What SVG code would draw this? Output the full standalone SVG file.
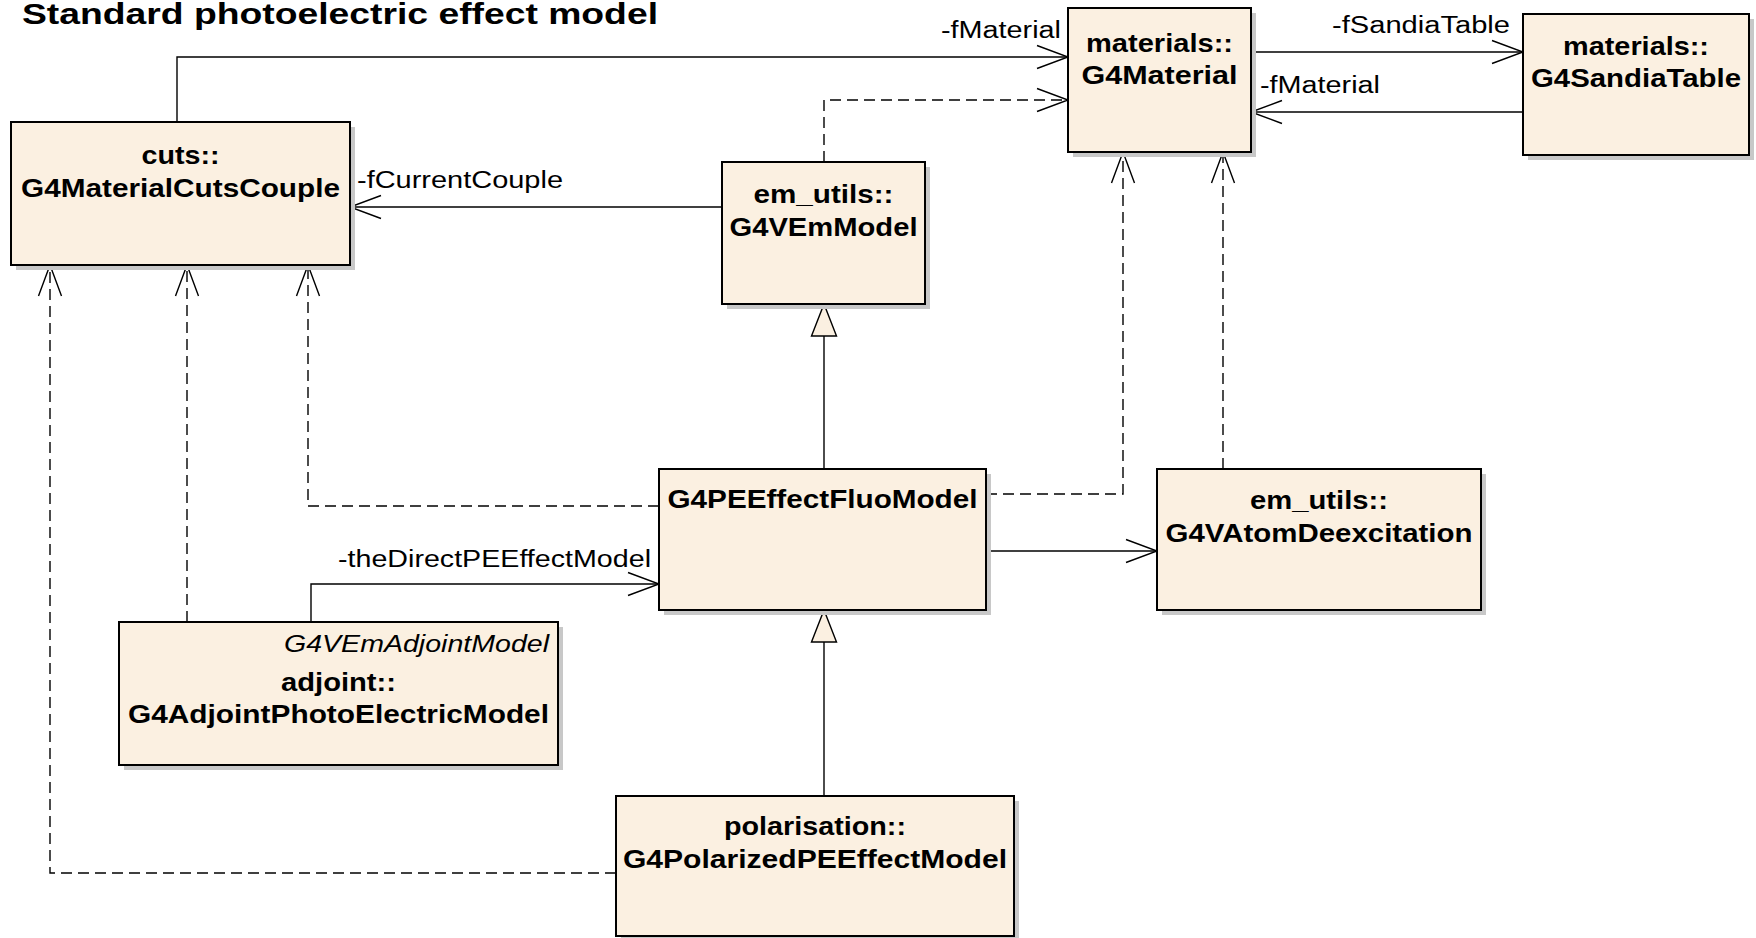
<svg xmlns="http://www.w3.org/2000/svg" width="1756" height="938" viewBox="0 0 1756 938">
  <style>
    .box { fill: #fbf0e1; stroke: #000; stroke-width: 2; }
    .shadow { fill: #c8c8c8; }
    .name { font-family: "Liberation Sans", Arial, sans-serif; font-size: 25px; font-weight: bold; fill: #000; text-anchor: middle; }
    .stereo { font-family: "Liberation Sans", Arial, sans-serif; font-size: 24px; font-style: italic; fill: #000; text-anchor: end; }
    .label { font-family: "Liberation Sans", Arial, sans-serif; font-size: 23px; fill: #000; }
    .title { font-family: "Liberation Sans", Arial, sans-serif; font-size: 30px; font-weight: bold; fill: #000; }
    .assoc { fill: none; stroke: #000; stroke-width: 1.4; marker-end: url(#open); }
    .dep { fill: none; stroke: #000; stroke-width: 1.4; stroke-dasharray: 11 6; marker-end: url(#open); }
    .gen { fill: none; stroke: #000; stroke-width: 1.4; marker-end: url(#hollow); }
  </style>
  <defs>
    <marker id="open" viewBox="-33 -13 35 26" refX="0" refY="0" markerWidth="35" markerHeight="26" markerUnits="userSpaceOnUse" orient="auto">
      <path d="M-31,-11.5 L0,0 L-31,11.5" fill="none" stroke="#000" stroke-width="1.4"/>
    </marker>
    <marker id="hollow" viewBox="-34 -14 36 28" refX="0" refY="0" markerWidth="36" markerHeight="28" markerUnits="userSpaceOnUse" orient="auto">
      <path d="M-32,-12.5 L0,0 L-32,12.5 Z" fill="#fbf0e1" stroke="#000" stroke-width="1.4"/>
    </marker>
  </defs>

  <rect width="1756" height="938" fill="#fff"/>

  <text class="title" x="22" y="24" textLength="636" lengthAdjust="spacingAndGlyphs">Standard photoelectric effect model</text>

  <!-- connectors -->
  <g id="connectors">
    <path class="assoc" d="M177,122 V57 H1068"/>
    <text class="label" x="941" y="38" textLength="120" lengthAdjust="spacingAndGlyphs">-fMaterial</text>

    <path class="assoc" d="M722,207 H350"/>
    <text class="label" x="357" y="188" textLength="206" lengthAdjust="spacingAndGlyphs">-fCurrentCouple</text>

    <path class="dep" d="M824,162 V100 H1068"/>

    <path class="assoc" d="M1251,52 H1523"/>
    <text class="label" x="1332" y="33" textLength="178" lengthAdjust="spacingAndGlyphs">-fSandiaTable</text>

    <path class="assoc" d="M1523,112 H1251"/>
    <text class="label" x="1260" y="93" textLength="120" lengthAdjust="spacingAndGlyphs">-fMaterial</text>

    <path class="dep" d="M986,494 H1123 V152"/>
    <path class="dep" d="M1223,469 V152"/>

    <path class="gen" d="M824,469 V304"/>

    <path class="assoc" d="M986,551 H1157"/>

    <path class="dep" d="M659,506 H308 V265"/>
    <path class="dep" d="M187,622 V265"/>

    <path class="assoc" d="M311,622 V584 H659"/>
    <text class="label" x="338" y="567" textLength="313" lengthAdjust="spacingAndGlyphs">-theDirectPEEffectModel</text>

    <path class="gen" d="M824,796 V610"/>

    <path class="dep" d="M616,873 H50 V265"/>
  </g>

  <!-- classes -->
  <g id="G4MaterialCutsCouple">
    <rect class="shadow" x="16" y="127" width="339" height="143"/>
    <rect class="box" x="11" y="122" width="339" height="143"/>
    <text class="name" x="180.5" y="164" textLength="78" lengthAdjust="spacingAndGlyphs">cuts::</text>
    <text class="name" x="180.5" y="197" textLength="319" lengthAdjust="spacingAndGlyphs">G4MaterialCutsCouple</text>
  </g>

  <g id="G4Material">
    <rect class="shadow" x="1073" y="13" width="183" height="144"/>
    <rect class="box" x="1068" y="8" width="183" height="144"/>
    <text class="name" x="1159.5" y="52" textLength="147" lengthAdjust="spacingAndGlyphs">materials::</text>
    <text class="name" x="1159.5" y="84" textLength="156" lengthAdjust="spacingAndGlyphs">G4Material</text>
  </g>

  <g id="G4SandiaTable">
    <rect class="shadow" x="1528" y="19" width="226" height="141"/>
    <rect class="box" x="1523" y="14" width="226" height="141"/>
    <text class="name" x="1636" y="55" textLength="146" lengthAdjust="spacingAndGlyphs">materials::</text>
    <text class="name" x="1636" y="87" textLength="210" lengthAdjust="spacingAndGlyphs">G4SandiaTable</text>
  </g>

  <g id="G4VEmModel">
    <rect class="shadow" x="727" y="167" width="203" height="142"/>
    <rect class="box" x="722" y="162" width="203" height="142"/>
    <text class="name" x="823.5" y="203" textLength="140" lengthAdjust="spacingAndGlyphs">em_utils::</text>
    <text class="name" x="823.5" y="236" textLength="188" lengthAdjust="spacingAndGlyphs">G4VEmModel</text>
  </g>

  <g id="G4PEEffectFluoModel">
    <rect class="shadow" x="664" y="474" width="327" height="141"/>
    <rect class="box" x="659" y="469" width="327" height="141"/>
    <text class="name" x="822.5" y="508" textLength="310" lengthAdjust="spacingAndGlyphs">G4PEEffectFluoModel</text>
  </g>

  <g id="G4VAtomDeexcitation">
    <rect class="shadow" x="1162" y="474" width="324" height="141"/>
    <rect class="box" x="1157" y="469" width="324" height="141"/>
    <text class="name" x="1319" y="509" textLength="138" lengthAdjust="spacingAndGlyphs">em_utils::</text>
    <text class="name" x="1319" y="542" textLength="307" lengthAdjust="spacingAndGlyphs">G4VAtomDeexcitation</text>
  </g>

  <g id="G4AdjointPhotoElectricModel">
    <rect class="shadow" x="124" y="627" width="439" height="143"/>
    <rect class="box" x="119" y="622" width="439" height="143"/>
    <text class="stereo" x="549" y="652" textLength="265" lengthAdjust="spacingAndGlyphs">G4VEmAdjointModel</text>
    <text class="name" x="338.5" y="691" textLength="115" lengthAdjust="spacingAndGlyphs">adjoint::</text>
    <text class="name" x="338.5" y="723" textLength="421" lengthAdjust="spacingAndGlyphs">G4AdjointPhotoElectricModel</text>
  </g>

  <g id="G4PolarizedPEEffectModel">
    <rect class="shadow" x="621" y="801" width="398" height="140"/>
    <rect class="box" x="616" y="796" width="398" height="140"/>
    <text class="name" x="815" y="835" textLength="182" lengthAdjust="spacingAndGlyphs">polarisation::</text>
    <text class="name" x="815" y="868" textLength="384" lengthAdjust="spacingAndGlyphs">G4PolarizedPEEffectModel</text>
  </g>
</svg>
